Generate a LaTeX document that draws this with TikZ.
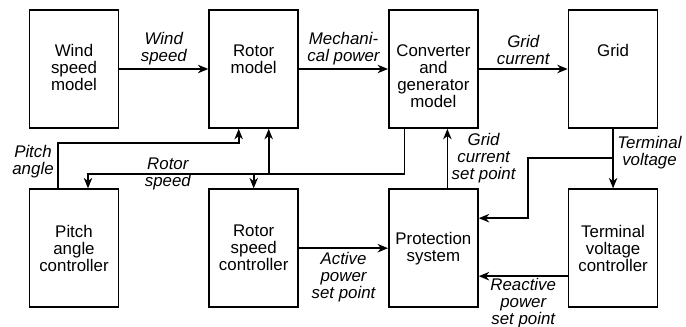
\documentclass[tikz,border=0pt]{standalone}
\usepackage{fontspec}
\setmainfont{Liberation Sans}
\usetikzlibrary{positioning, arrows.meta}

\begin{document}
\begin{tikzpicture}[
  every node/.style={font=\fontsize{12}{12.1}\selectfont},
  block/.style={draw, line width=1.2pt, minimum width=2.225cm, minimum height=2.95cm, inner sep=0pt, align=center},
  blocktext/.style={inner sep=0pt, align=center},
  lab/.style={font=\fontsize{12}{12.1}\selectfont\itshape, align=center, inner sep=2.5pt},
  arr/.style={line width=1.2pt, -{Stealth[length=2.6mm, width=2.1mm, inset=0.8mm]}},
  node distance=1.4875cm and 2.225cm,
]
\useasboundingbox (0,0) rectangle (17.15,-8.175);

  % Top row: models
  \node[block] (windmodel) at (1.85,-1.725) {};
  \node[block, right=of windmodel] (rotormodel) {};
  \node[block, right=of rotormodel] (convmodel) {};
  \node[block, right=of convmodel] (grid) {};
  \node[blocktext, below=8.75mm of windmodel.north] (windtext) {Wind\\speed\\model};
  \node[blocktext, below=8.75mm of rotormodel.north] (rotortext) {Rotor\\model};
  \node[blocktext, below=8.75mm of convmodel.north] (convtext) {Converter\\and\\generator\\model};
  \node[blocktext, below=8.75mm of grid.north] (gridtext) {Grid};

  % Bottom row: controllers
  \node[block, below=of windmodel] (pitchctrl) {Pitch\\angle\\controller};
  \node[block, below=of rotormodel] (speedctrl) {Rotor\\speed\\controller};
  \node[block, below=of convmodel] (protect) {Protection\\system};
  \node[block, below=of grid] (voltctrl) {Terminal\\voltage\\controller};

  % Forward path
  \draw[arr] (windmodel) -- node[lab, above] {Wind\\speed} (rotormodel);
  \draw[arr] (rotormodel) -- node[lab, above] {Mechani-\\cal power} (convmodel);
  \draw[arr] (convmodel) -- node[lab, above] {Grid\\current} (grid);

  % Pitch angle
  \draw[arr] ([xshift=-4mm]pitchctrl.north) -- node[lab, left, yshift=1mm] {Pitch\\angle} ++(0,1.125)
    -| ([xshift=-3.75mm]rotormodel.south);

  % Rotor speed
  \coordinate (rotorin) at ([xshift=3.75mm]rotormodel.south);
  \draw[arr] ([xshift=-7.25mm]convmodel.south) -- ++(0,-1.125) coordinate (rs)
    -| ([xshift=3.5mm]pitchctrl.north);
  \draw[arr] (rs -| rotorin) -- (rotorin);
  \draw[arr] (rs -| speedctrl.north) -- (speedctrl.north);
  \path (pitchctrl.north east |- rs) -- node[lab, xshift=1mm] {Rotor\\speed} (speedctrl.north west |- rs);

  % Set points
  \draw[arr] (speedctrl) -- node[lab, below] {Active\\power\\set point} (protect);
  \draw[arr] ([xshift=3.5mm]protect.north) -- node[lab, right] {Grid\\current\\set point}
    ([xshift=3.5mm]convmodel.south);
  \draw[arr] ([yshift=-7mm]voltctrl.west) -- node[lab, below, yshift=0.6mm] {Reactive\\power\\set point}
    ([yshift=-7mm]protect.west -| protect.east);

  % Terminal voltage
  \draw[arr] (grid) -- node[lab, right, pos=0.4] {Terminal\\voltage} (voltctrl);
  \coordinate (tj) at ([yshift=-7.25mm]grid.south);
  \draw[arr] (tj) -| ([xshift=12.25mm, yshift=7.5mm]protect.east) -- ([yshift=7.5mm]protect.east);
\end{tikzpicture}
\end{document}
